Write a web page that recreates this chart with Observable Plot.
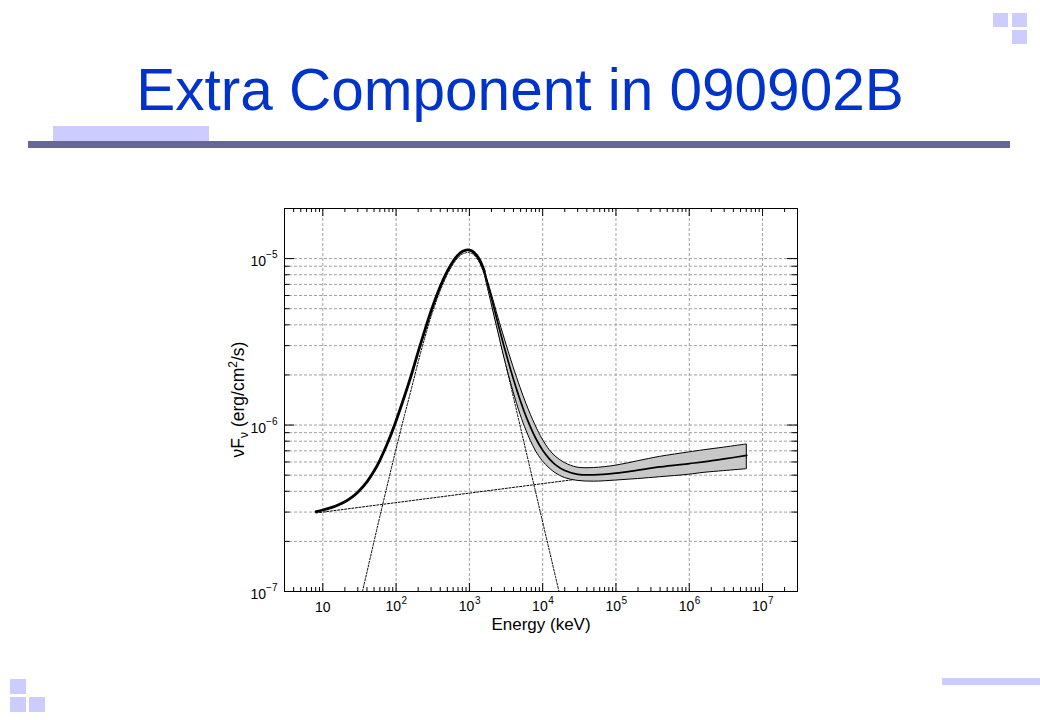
<!DOCTYPE html>
<html>
<head>
<meta charset="utf-8">
<script src="https://cdn.jsdelivr.net/npm/d3@7"></script>
<script src="https://cdn.jsdelivr.net/npm/@observablehq/plot@0.6"></script>
<style>
  html, body { margin: 0; padding: 0; background: #ffffff; }
  body { width: 1040px; height: 720px; position: relative; overflow: hidden;
         font-family: "Liberation Sans", Arial, Helvetica, sans-serif; }
  .deco { position: absolute; background: #ccccff; }
  .bar { position: absolute; background: #666699; }
  #title { position: absolute; left: 520px; top: 61px; transform: translateX(-50%);
           white-space: nowrap; color: #0033cc; font-size: 58.5px; line-height: 58px; }
  #chart { position: absolute; left: 200px; top: 190px; }
</style>
</head>
<body>
<div class="deco" style="left:993px;top:13px;width:15px;height:14px"></div>
<div class="deco" style="left:1012px;top:13px;width:15px;height:14px"></div>
<div class="deco" style="left:1012px;top:30px;width:15px;height:14px"></div>
<div id="title">Extra Component in 090902B</div>
<div class="deco" style="left:53px;top:126px;width:156px;height:16px"></div>
<div class="bar" style="left:28px;top:141px;width:982px;height:7px"></div>
<div class="deco" style="left:10px;top:679px;width:16px;height:15px"></div>
<div class="deco" style="left:10px;top:697px;width:16px;height:15px"></div>
<div class="deco" style="left:29px;top:697px;width:16px;height:15px"></div>
<div class="deco" style="left:942px;top:678px;width:98px;height:7px"></div>
<div id="chart"></div>
<script>
// ---- tick labels ----
const xMajor = [10, 1e2, 1e3, 1e4, 1e5, 1e6, 1e7];
const xExp = ["", "2", "3", "4", "5", "6", "7"];
const yMajor = [1e-7, 1e-6, 1e-5];
const yExp = ["\u22127", "\u22126", "\u22125"];
const xTitle = "Energy (keV)";

// ---- total model (Band + power law), solid thick line ----
const modelE = [8.1, 10, 12, 15, 20, 25, 30, 40, 50, 60, 80, 100, 130, 160, 200, 250, 300, 400, 500, 600, 700, 800, 900, 950, 1000, 1100, 1250, 1400, 1600];
const modelF = [3.02e-7, 3.087e-7, 3.156e-7, 3.264e-7, 3.46e-7, 3.69e-7, 3.946e-7, 4.555e-7, 5.29e-7, 6.142e-7, 8.185e-7, 1.062e-6, 1.49e-6, 1.976e-6, 2.75e-6, 3.78e-6, 4.85e-6, 6.8e-6, 8.4e-6, 9.65e-6, 1.052e-5, 1.103e-5, 1.124e-5, 1.128e-5, 1.125e-5, 1.108e-5, 1.05e-5, 9.7e-6, 8.4e-6];

// ---- butterfly (confidence band) ----
const bandE = [1600, 2000, 2500, 3000, 4000, 5000, 6000, 8000, 1e4, 1.25e4, 1.5e4, 2e4, 3e4, 5e4, 1e5, 2e5, 4e5, 1e6, 1.57e6, 3e6, 6.1e6];
const bandMid = [8.4e-6, 5.8e-6, 3.95e-6, 2.92e-6, 1.88e-6, 1.386e-6, 1.112e-6, 8.36e-7, 7.05e-7, 6.22e-7, 5.77e-7, 5.33e-7, 5.06e-7, 5.02e-7, 5.14e-7, 5.36e-7, 5.6e-7, 5.87e-7, 6.01e-7, 6.26e-7, 6.57e-7];
const bandHi = [8.6e-6, 6.2e-6, 4.38e-6, 3.35e-6, 2.23e-6, 1.67e-6, 1.34e-6, 9.94e-7, 8.19e-7, 7.06e-7, 6.47e-7, 5.92e-7, 5.55e-7, 5.52e-7, 5.70e-7, 6.06e-7, 6.44e-7, 6.85e-7, 7.05e-7, 7.32e-7, 7.65e-7];
const bandLo = [8.2e-6, 5.4e-6, 3.56e-6, 2.54e-6, 1.58e-6, 1.15e-6, 9.25e-7, 7.03e-7, 6.07e-7, 5.48e-7, 5.14e-7, 4.81e-7, 4.62e-7, 4.57e-7, 4.64e-7, 4.74e-7, 4.86e-7, 5.03e-7, 5.16e-7, 5.29e-7, 5.43e-7];

// ---- Band function component (dotted) ----
const bandFnE = [34, 40, 50, 60, 80, 100, 130, 160, 200, 250, 300, 400, 500, 600, 700, 800, 900, 950, 1000, 1100, 1250, 1400, 1600, 1841, 2000, 2500, 3000, 4000, 5000, 6000, 8000, 1e4, 1.25e4, 1.5e4, 1.7e4];
const bandFnF = [9.56e-8, 1.307e-7, 2.0e-7, 2.819e-7, 4.806e-7, 7.2e-7, 1.142e-6, 1.624e-6, 2.394e-6, 3.42e-6, 4.49e-6, 6.43e-6, 8.03e-6, 9.27e-6, 1.014e-5, 1.065e-5, 1.085e-5, 1.089e-5, 1.086e-5, 1.069e-5, 1.011e-5, 9.3e-6, 8.0e-6, 6.3e-6, 5.39e-6, 3.54e-6, 2.51e-6, 1.46e-6, 9.6e-7, 6.81e-7, 3.97e-7, 2.61e-7, 1.72e-7, 1.22e-7, 9.67e-8];

// ---- extra power-law component (dotted) ----
const plE = [8.1, 6.1e6];
const plF = [2.964e-7, 6.41e-7];

// ---- build tables ----
const model = modelE.map((e, i) => ({e, f: modelF[i]}));
const band = bandE.map((e, i) => ({e, mid: bandMid[i], lo: bandLo[i], hi: bandHi[i]}));
const bandFn = bandFnE.map((e, i) => ({e, f: bandFnF[i]}));
const pl = plE.map((e, i) => ({e, f: plF[i]}));
const xTicks = xMajor.map((v, i) => ({v, exp: xExp[i]}));
const yTicks = yMajor.map((v, i) => ({v, exp: yExp[i]}));

// minor ticks / grid positions (decade multiples)
const xMinor = [];
for (let d = 1; d <= 1e7; d *= 10) for (let k = 2; k <= 9; k++) { const v = k * d; if (v >= 3 && v <= 3e7) xMinor.push(v); }
const yMinor = [];
for (let d = 1e-7; d < 1e-5; d *= 10) for (let k = 2; k <= 9; k++) yMinor.push(k * d);
const yGrid = yMinor.concat([1e-6, 1e-5]);
const xGrid = xMajor;

const W = 640, H = 450, mL = 84, mR = 43, mT = 18, mB = 49;
const fW = W - mL - mR, fH = H - mT - mB;
const gridStyle = {stroke: "#a0a0a0", strokeOpacity: 1, strokeWidth: 1, strokeDasharray: "3,2"};

const chart = Plot.plot({
  width: W, height: H,
  marginLeft: mL, marginRight: mR, marginTop: mT, marginBottom: mB,
  style: {fontFamily: "'Liberation Sans', Arial, Helvetica, sans-serif", background: "transparent", color: "black"},
  x: {type: "log", domain: [3, 3e7], axis: null},
  y: {type: "log", domain: [1e-7, 2e-5], axis: null},
  marks: [
    Plot.gridX(xGrid, gridStyle),
    Plot.gridY(yGrid, gridStyle),
    // power-law component
    Plot.line(pl, {x: "e", y: "f", stroke: "black", strokeWidth: 1, strokeDasharray: "2,1.6"}),
    // Band function component
    Plot.line(bandFn, {x: "e", y: "f", stroke: "black", strokeWidth: 1, strokeDasharray: "2,1.6", curve: "catmull-rom", clip: true}),
    // butterfly
    Plot.areaY(band, {x: "e", y1: "lo", y2: "hi", fill: "#c8c8c8", stroke: "black", strokeWidth: 1, curve: "catmull-rom"}),
    Plot.line(band, {x: "e", y: "mid", stroke: "black", strokeWidth: 1.7, curve: "catmull-rom"}),
    // total model
    Plot.line(model, {x: "e", y: "f", stroke: "black", strokeWidth: 2.8, curve: "catmull-rom"}),
    // frame and inward ticks
    Plot.frame({stroke: "black", strokeWidth: 1}),
    Plot.tickX(xMajor, {x: d => d, insetTop: fH - 8, stroke: "black"}),
    Plot.tickX(xMajor, {x: d => d, insetBottom: fH - 8, stroke: "black"}),
    Plot.tickX(xMinor, {x: d => d, insetTop: fH - 4, stroke: "black"}),
    Plot.tickX(xMinor, {x: d => d, insetBottom: fH - 4, stroke: "black"}),
    Plot.tickY(yMajor, {y: d => d, insetRight: fW - 10, stroke: "black"}),
    Plot.tickY(yMajor, {y: d => d, insetLeft: fW - 10, stroke: "black"}),
    Plot.tickY(yMinor, {y: d => d, insetRight: fW - 5.5, stroke: "black"}),
    Plot.tickY(yMinor, {y: d => d, insetLeft: fW - 5.5, stroke: "black"}),
    // x tick labels
    Plot.text(xTicks.filter(d => !d.exp), {x: "v", text: () => "10", frameAnchor: "bottom", lineAnchor: "top", dy: 11, fontSize: 14, fill: "black"}),
    Plot.text(xTicks.filter(d => d.exp), {x: "v", text: () => "10", frameAnchor: "bottom", lineAnchor: "top", textAnchor: "end", dx: 5, dy: 10, fontSize: 14, fill: "black"}),
    Plot.text(xTicks.filter(d => d.exp), {x: "v", text: "exp", frameAnchor: "bottom", lineAnchor: "top", textAnchor: "start", dx: 5.5, dy: 5, fontSize: 10, fill: "black"}),
    // y tick labels
    Plot.text(yTicks, {y: "v", text: () => "10", frameAnchor: "left", lineAnchor: "middle", textAnchor: "end", dx: -18.5, dy: 3, fontSize: 14, fill: "black"}),
    Plot.text(yTicks, {y: "v", text: "exp", frameAnchor: "left", lineAnchor: "middle", textAnchor: "end", dx: -7, dy: -3.5, fontSize: 10, fill: "black"}),
    // x axis title
    Plot.text([xTitle], {text: d => d, frameAnchor: "bottom", lineAnchor: "top", dy: 26, fontSize: 17, fill: "black"})
  ]
});

// y axis title with sub/superscripts
const svg = d3.select(chart);
const yl = svg.append("text")
  .attr("transform", `translate(${44},${mT + fH / 2}) rotate(-90)`)
  .attr("text-anchor", "middle")
  .attr("font-size", 17.5)
  .attr("fill", "black");
yl.append("tspan").text("\u03bdF");
yl.append("tspan").attr("dy", 4).attr("font-size", 12).text("\u03bd");
yl.append("tspan").attr("dy", -4).text(" (erg/cm");
yl.append("tspan").attr("dy", -7).attr("font-size", 12).text("2");
yl.append("tspan").attr("dy", 7).text("/s)");

document.getElementById("chart").appendChild(chart);
</script>
</body>
</html>
